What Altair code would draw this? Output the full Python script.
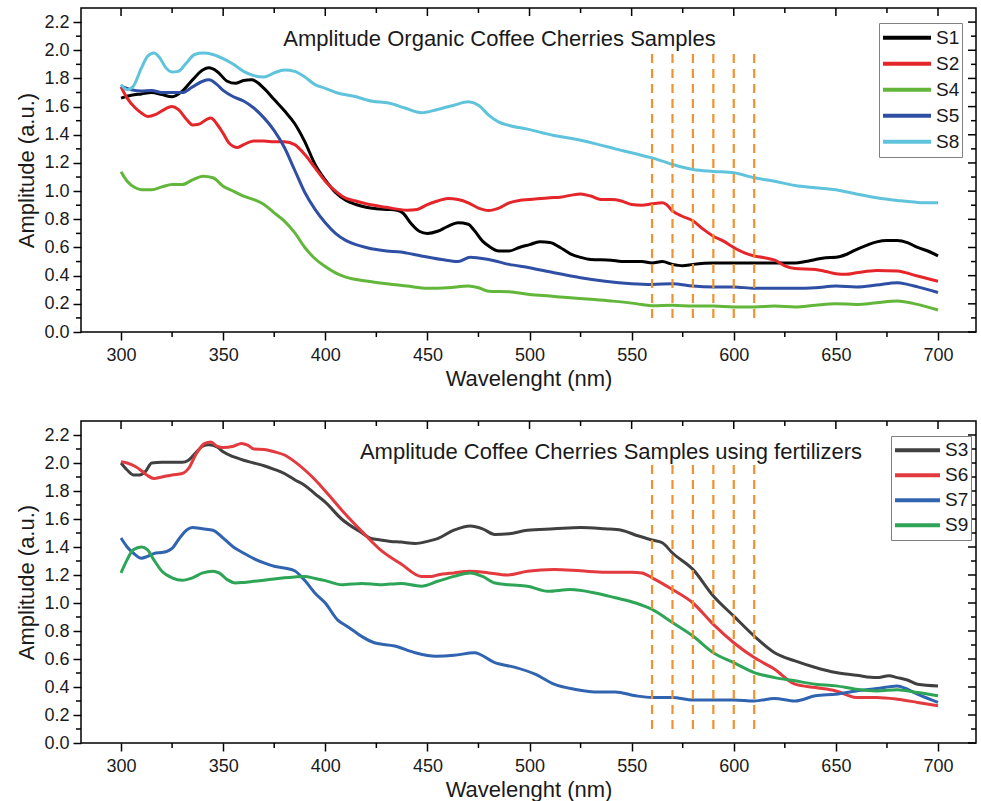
import altair as alt
import pandas as pd

FONT = "Liberation Sans"
TXT = "#1a1a1a"

# ---------------- Top panel: organic samples ----------------
s1_wl = [300, 305, 310, 315, 320, 325, 330, 335, 340, 343, 347, 352, 356, 360, 364, 370, 375, 380, 385, 390,
         395, 400, 405, 410, 415, 420, 425, 430, 435, 438, 442, 446, 450, 455, 460, 465, 470, 473, 477, 480,
         485, 490, 495, 500, 505, 510, 515, 520, 525, 530, 540, 545, 550, 555, 560, 565, 570, 575, 580, 590,
         600, 610, 620, 630, 635, 640, 645, 650, 655, 660, 665, 670, 675, 680, 685, 690, 695, 700]
s1_amp = [1.66, 1.68, 1.69, 1.70, 1.685, 1.67, 1.71, 1.79, 1.86, 1.875, 1.85, 1.78, 1.765, 1.785, 1.79, 1.73,
          1.65, 1.57, 1.48, 1.35, 1.19, 1.08, 0.99, 0.935, 0.905, 0.885, 0.875, 0.87, 0.865, 0.845, 0.77, 0.715,
          0.70, 0.715, 0.75, 0.775, 0.765, 0.72, 0.645, 0.61, 0.575, 0.575, 0.60, 0.62, 0.64, 0.635, 0.60, 0.555,
          0.53, 0.515, 0.51, 0.50, 0.50, 0.50, 0.49, 0.50, 0.48, 0.47, 0.48, 0.49, 0.49, 0.49, 0.49, 0.49, 0.50,
          0.515, 0.527, 0.53, 0.55, 0.585, 0.615, 0.64, 0.65, 0.65, 0.635, 0.60, 0.575, 0.54]

s2_wl = [300, 303, 307, 310, 313, 317, 320, 325, 328, 332, 335, 338, 342, 344, 347, 350, 353, 357, 360, 365,
         370, 375, 380, 385, 390, 395, 400, 405, 410, 415, 420, 430, 440, 445, 450, 455, 460, 465, 470, 475,
         480, 485, 490, 495, 500, 510, 515, 520, 525, 530, 535, 540, 545, 550, 555, 560, 565, 567, 570, 575,
         580, 585, 590, 595, 600, 605, 610, 615, 620, 625, 630, 640, 645, 650, 655, 660, 670, 680, 690, 700]
s2_amp = [1.74, 1.66, 1.59, 1.555, 1.53, 1.545, 1.57, 1.60, 1.58, 1.51, 1.47, 1.475, 1.51, 1.52, 1.475, 1.41,
          1.34, 1.31, 1.33, 1.355, 1.355, 1.35, 1.35, 1.33, 1.26, 1.165, 1.07, 1.0, 0.95, 0.93, 0.91, 0.885,
          0.865, 0.87, 0.905, 0.93, 0.948, 0.94, 0.917, 0.88, 0.863, 0.88, 0.917, 0.934, 0.94, 0.953, 0.957,
          0.97, 0.98, 0.965, 0.94, 0.94, 0.93, 0.905, 0.90, 0.91, 0.917, 0.905, 0.86, 0.82, 0.79, 0.73, 0.68,
          0.645, 0.60, 0.563, 0.54, 0.527, 0.51, 0.47, 0.45, 0.444, 0.43, 0.414, 0.41, 0.42, 0.437, 0.433,
          0.397, 0.36]

s4_wl = [300, 303, 307, 310, 315, 320, 325, 330, 335, 340, 345, 350, 355, 360, 365, 370, 375, 380, 385, 390,
         395, 400, 405, 410, 420, 430, 440, 450, 460, 470, 475, 480, 490, 500, 510, 520, 530, 540, 550, 555,
         560, 570, 580, 590, 600, 610, 620, 630, 640, 650, 660, 670, 680, 690, 700]
s4_amp = [1.137, 1.07, 1.024, 1.01, 1.01, 1.03, 1.047, 1.047, 1.08, 1.106, 1.095, 1.035, 1.0, 0.965, 0.94,
          0.905, 0.846, 0.787, 0.705, 0.60, 0.52, 0.465, 0.42, 0.39, 0.362, 0.342, 0.326, 0.31, 0.314, 0.326,
          0.314, 0.29, 0.286, 0.267, 0.255, 0.243, 0.232, 0.22, 0.205, 0.195, 0.186, 0.19, 0.184, 0.184, 0.177,
          0.177, 0.184, 0.177, 0.19, 0.20, 0.196, 0.208, 0.22, 0.196, 0.156]

s5_wl = [300, 305, 310, 315, 320, 325, 330, 335, 340, 343, 347, 350, 355, 360, 365, 370, 375, 380, 385, 390,
         395, 400, 405, 410, 415, 420, 425, 430, 437, 440, 447, 457, 465, 471, 475, 480, 490, 500, 512, 525,
         537, 550, 560, 570, 580, 590, 600, 610, 620, 630, 640, 650, 660, 670, 680, 685, 690, 700]
s5_amp = [1.745, 1.72, 1.71, 1.715, 1.70, 1.70, 1.70, 1.74, 1.78, 1.79, 1.756, 1.715, 1.67, 1.64, 1.59, 1.52,
          1.43, 1.31, 1.15, 0.99, 0.87, 0.775, 0.70, 0.65, 0.62, 0.60, 0.585, 0.575, 0.568, 0.56, 0.54, 0.515,
          0.50, 0.53, 0.525, 0.515, 0.48, 0.456, 0.42, 0.385, 0.36, 0.343, 0.338, 0.343, 0.326, 0.32, 0.32,
          0.31, 0.31, 0.31, 0.314, 0.326, 0.32, 0.333, 0.35, 0.338, 0.32, 0.28]

s8_wl = [300, 303, 306, 310, 313, 316, 319, 322, 325, 328, 332, 336, 340, 345, 350, 355, 360, 365, 370, 375,
         380, 385, 390, 395, 400, 406, 414, 423, 431, 439, 447, 455, 463, 470, 475, 480, 485, 490, 499, 512,
         522, 532, 542, 552, 560, 570, 580, 590, 600, 610, 620, 630, 640, 650, 660, 670, 680, 690, 700]
s8_amp = [1.756, 1.72, 1.745, 1.875, 1.957, 1.98, 1.945, 1.875, 1.846, 1.85, 1.91, 1.97, 1.98, 1.97, 1.94,
          1.90, 1.85, 1.82, 1.81, 1.84, 1.86, 1.85, 1.81, 1.756, 1.73, 1.697, 1.673, 1.638, 1.626, 1.59, 1.556,
          1.58, 1.61, 1.634, 1.61, 1.54, 1.49, 1.466, 1.44, 1.395, 1.37, 1.337, 1.30, 1.265, 1.236, 1.19,
          1.154, 1.14, 1.13, 1.095, 1.07, 1.04, 1.024, 1.01, 0.98, 0.953, 0.934, 0.92, 0.917]

# ---------------- Bottom panel: samples using fertilizers ----------------
s3_wl = [300, 303, 306, 309, 312, 315, 320, 325, 330, 333, 337, 340, 343, 347, 350, 355, 360, 365, 370, 375,
         380, 385, 390, 395, 400, 408, 418, 422, 427, 432, 437, 444, 450, 455, 463, 471, 477, 483, 490, 499,
         512, 525, 537, 545, 553, 560, 565, 570, 580, 590, 600, 610, 620, 630, 640, 650, 660, 670, 676, 680,
         685, 690, 700]
s3_amp = [2.0, 1.95, 1.915, 1.915, 1.94, 2.0, 2.005, 2.005, 2.005, 2.02, 2.08, 2.12, 2.13, 2.115, 2.08, 2.045,
          2.02, 2.0, 1.98, 1.955, 1.925, 1.88, 1.84, 1.78, 1.72, 1.60, 1.50, 1.464, 1.45, 1.44, 1.435, 1.425,
          1.44, 1.46, 1.52, 1.55, 1.53, 1.49, 1.495, 1.52, 1.53, 1.54, 1.53, 1.52, 1.48, 1.45, 1.43, 1.357,
          1.24, 1.05, 0.906, 0.764, 0.645, 0.586, 0.539, 0.503, 0.484, 0.467, 0.48, 0.467, 0.45, 0.42, 0.408]

s6_wl = [300, 303, 307, 310, 313, 316, 320, 325, 330, 333, 337, 341, 344, 347, 350, 355, 359, 362, 365, 370,
         375, 380, 385, 390, 395, 400, 408, 418, 427, 437, 447, 452, 455, 463, 471, 480, 489, 499, 512, 525,
         537, 550, 555, 560, 570, 580, 590, 600, 610, 620, 630, 640, 650, 660, 670, 680, 690, 700]
s6_amp = [2.01, 2.0, 1.975, 1.945, 1.91, 1.89, 1.90, 1.915, 1.925, 1.96, 2.07, 2.14, 2.15, 2.12, 2.11, 2.12,
          2.14, 2.128, 2.10, 2.097, 2.08, 2.057, 2.01, 1.95, 1.88, 1.80, 1.665, 1.51, 1.38, 1.28, 1.19, 1.19,
          1.20, 1.215, 1.227, 1.215, 1.20, 1.227, 1.24, 1.23, 1.22, 1.22, 1.215, 1.18, 1.096, 1.0, 0.847, 0.716,
          0.61, 0.527, 0.42, 0.396, 0.372, 0.325, 0.325, 0.313, 0.29, 0.266]

s7_wl = [300, 303, 306, 310, 313, 317, 320, 325, 328, 332, 335, 340, 345, 350, 355, 360, 365, 370, 375, 380,
         385, 390, 395, 400, 406, 410, 414, 418, 424, 434, 444, 454, 463, 473, 483, 493, 503, 512, 522, 532,
         542, 552, 560, 570, 580, 590, 600, 610, 620, 630, 640, 650, 660, 670, 680, 685, 690, 700]
s7_amp = [1.464, 1.40, 1.357, 1.32, 1.333, 1.357, 1.36, 1.39, 1.45, 1.52, 1.54, 1.53, 1.52, 1.464, 1.40, 1.357,
          1.317, 1.286, 1.262, 1.25, 1.23, 1.16, 1.07, 1.0, 0.88, 0.84, 0.80, 0.76, 0.716, 0.693, 0.645, 0.62,
          0.626, 0.645, 0.574, 0.54, 0.49, 0.42, 0.384, 0.365, 0.365, 0.337, 0.325, 0.325, 0.308, 0.308, 0.308,
          0.30, 0.318, 0.30, 0.337, 0.349, 0.372, 0.389, 0.408, 0.384, 0.349, 0.29]

s9_wl = [300, 303, 306, 310, 313, 316, 320, 325, 330, 335, 340, 345, 348, 352, 356, 360, 365, 370, 375, 380,
         385, 390, 395, 400, 408, 418, 427, 437, 447, 455, 463, 471, 477, 483, 490, 499, 509, 520, 532, 542,
         552, 560, 570, 580, 590, 600, 610, 620, 630, 640, 650, 660, 670, 680, 690, 700]
s9_amp = [1.215, 1.31, 1.38, 1.40, 1.38, 1.31, 1.227, 1.18, 1.163, 1.18, 1.215, 1.227, 1.215, 1.167, 1.143,
          1.147, 1.155, 1.163, 1.172, 1.18, 1.186, 1.19, 1.175, 1.16, 1.13, 1.14, 1.13, 1.14, 1.12, 1.155, 1.19,
          1.215, 1.19, 1.143, 1.13, 1.12, 1.084, 1.096, 1.072, 1.037, 1.0, 0.954, 0.86, 0.764, 0.645, 0.574,
          0.503, 0.467, 0.444, 0.42, 0.408, 0.384, 0.372, 0.38, 0.36, 0.337]

top_names = ["S1", "S2", "S4", "S5", "S8"]
top_colors = ["#000000", "#e4262a", "#62b73a", "#2e4fa3", "#5fc3dc"]
bottom_names = ["S3", "S6", "S7", "S9"]
bottom_colors = ["#404040", "#e23a3e", "#3064b0", "#2ea556"]

x_major = [300, 350, 400, 450, 500, 550, 600, 650, 700]
x_minor = [325, 375, 425, 475, 525, 575, 625, 675]
y_major = [0.0, 0.2, 0.4, 0.6, 0.8, 1.0, 1.2, 1.4, 1.6, 1.8, 2.0, 2.2]
y_minor = [0.1, 0.3, 0.5, 0.7, 0.9, 1.1, 1.3, 1.5, 1.7, 1.9, 2.1]
band_wl = [560, 570, 580, 590, 600, 610]
band_low = 0.1
band_high = 2.0

X_DOMAIN = [280.4, 718.6]
Y_DOMAIN = [0.0, 2.3]
W = 895

X_AXIS = alt.Axis(
    values=x_major, title="Wavelenght (nm)", format="d", grid=False, domain=False,
    tickSize=8, tickWidth=1.5, tickColor="black", labelPadding=6,
    labelFont=FONT, labelFontSize=18, labelColor=TXT,
    titleFont=FONT, titleFontSize=22, titleFontWeight="normal", titleColor=TXT,
    titleBaseline="alphabetic", titleY=53)
Y_AXIS = alt.Axis(
    values=y_major, title="Amplitude (a.u.)", format=".1f", grid=False, domain=False,
    tickSize=8, tickWidth=1.5, tickColor="black", labelPadding=4,
    labelFont=FONT, labelFontSize=18, labelColor=TXT,
    titleFont=FONT, titleFontSize=22, titleFontWeight="normal", titleColor=TXT,
    titleBaseline="alphabetic", titleX=-48)


def make_df(groups):
    rows = []
    for name, wl, amp in groups:
        for w, a in zip(wl, amp):
            rows.append({"Sample": name, "wl": w, "amp": a})
    return pd.DataFrame(rows)


top_df = make_df([("S1", s1_wl, s1_amp), ("S2", s2_wl, s2_amp), ("S4", s4_wl, s4_amp),
                  ("S5", s5_wl, s5_amp), ("S8", s8_wl, s8_amp)])
bottom_df = make_df([("S3", s3_wl, s3_amp), ("S6", s6_wl, s6_amp), ("S7", s7_wl, s7_amp),
                     ("S9", s9_wl, s9_amp)])


def panel(df, names, colors, title_text, title_px, title_py, H, leg_x, leg_y, sym_len, row_h):
    xs = alt.Scale(domain=X_DOMAIN, nice=False, zero=False)
    ys = alt.Scale(domain=Y_DOMAIN, nice=False, zero=False)

    def X(field):
        return alt.X(field, scale=xs, axis=X_AXIS)

    def Y(field):
        return alt.Y(field, scale=ys, axis=Y_AXIS)

    lines = alt.Chart(df).mark_line(strokeWidth=3, interpolate="monotone").encode(
        x=X("wl:Q"),
        y=Y("amp:Q"),
        color=alt.Color("Sample:N", scale=alt.Scale(domain=names, range=colors), legend=alt.Legend(
            title=None, orient="none", legendX=leg_x, legendY=leg_y, symbolType="stroke",
            symbolSize=sym_len * sym_len, symbolStrokeWidth=4, clipHeight=row_h, rowPadding=0,
            labelFont=FONT, labelFontSize=19, labelColor=TXT, labelOffset=3, padding=2,
            strokeColor="#808080", fillColor="white")),
    )

    bands = alt.Chart(pd.DataFrame({"wl": band_wl, "lo": band_low, "hi": band_high})).mark_rule(
        color="#f0922e", strokeWidth=2.2, strokeDash=[9, 6]).encode(
        x=X("wl:Q"), y=Y("lo:Q"), y2="hi:Q")

    xmaj = pd.DataFrame({"wl": x_major})
    xmin = pd.DataFrame({"wl": x_minor})
    ymaj = pd.DataFrame({"amp": y_major})
    ymin = pd.DataFrame({"amp": y_minor})
    tick = dict(color="black", strokeWidth=1.5)

    bottom_minor = alt.Chart(xmin).mark_rule(**tick).encode(
        x=X("wl:Q"), y=alt.value(H), y2=alt.value(H + 5))
    top_major = alt.Chart(xmaj).mark_rule(**tick).encode(
        x=X("wl:Q"), y=alt.value(0), y2=alt.value(8))
    top_minor = alt.Chart(xmin).mark_rule(**tick).encode(
        x=X("wl:Q"), y=alt.value(0), y2=alt.value(5))
    left_minor = alt.Chart(ymin).mark_rule(**tick).encode(
        y=Y("amp:Q"), x=alt.value(-5), x2=alt.value(0))
    right_major = alt.Chart(ymaj).mark_rule(**tick).encode(
        y=Y("amp:Q"), x=alt.value(W - 8), x2=alt.value(W))
    right_minor = alt.Chart(ymin).mark_rule(**tick).encode(
        y=Y("amp:Q"), x=alt.value(W - 5), x2=alt.value(W))

    title = alt.Chart(pd.DataFrame({"t": [title_text]})).mark_text(
        font=FONT, fontSize=22, color=TXT, align="center", baseline="alphabetic").encode(
        text="t:N", x=alt.value(title_px), y=alt.value(title_py))

    return alt.layer(lines, bands, bottom_minor, top_major, top_minor, left_minor,
                     right_major, right_minor, title).properties(width=W, height=H)


top = panel(top_df, top_names, top_colors, "Amplitude Organic Coffee Cherries Samples",
            418.5, 37.5, 324, 798, 15, 48, 25.5)
bottom = panel(bottom_df, bottom_names, bottom_colors,
               "Amplitude Coffee Cherries Samples using fertilizers",
               530, 38, 322, 810, 15, 45, 24.5)

chart = alt.vconcat(top, bottom, spacing=89, bounds="flush").resolve_scale(
    color="independent").resolve_legend(color="independent").properties(
    padding={"left": 14, "top": 6, "right": 0, "bottom": 0},
    background="white",
).configure_view(stroke="black", strokeWidth=1.5)

chart.save("out.html", embed_options={"renderer": "svg", "actions": False})
